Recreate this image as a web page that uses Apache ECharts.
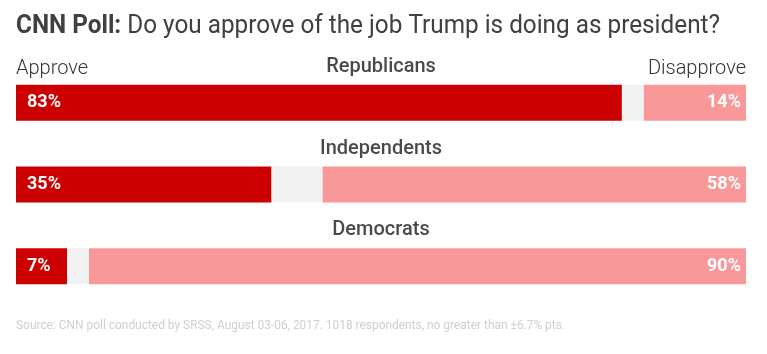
<!DOCTYPE html>
<html>
<head>
<meta charset="utf-8">
<style>
  html, body { margin: 0; padding: 0; background: #fff; }
  #chart { width: 767px; height: 354px; }
</style>
<script src="https://cdn.jsdelivr.net/npm/echarts@6/dist/echarts.min.js"></script>
</head>
<body>
<div id="chart"></div>
<script>
// poll data
const groups = ["Republicans", "Independents", "Democrats"];
const approve = [83, 35, 7];
const noOpinion = [3, 7, 3];
const disapprove = [14, 58, 90];

const titleBold = "CNN Poll:";
const titleRest = " Do you approve of the job Trump is doing as president?";
const source = "Source: CNN poll conducted by SRSS, August 03-06, 2017. 1018 respondents, no greater than \u00b16.7% pts.";

const font = "Roboto, 'Noto Sans', sans-serif";

// the original uses a condensed face; squeeze Roboto to the same width
const ctx = document.createElement("canvas").getContext("2d");
function textWidth(str, f) { ctx.font = f; return ctx.measureText(str).width; }
const titleW = textWidth(titleBold, "bold 25px Roboto") + textWidth(titleRest, "25px Roboto");
const titleScale = 704 / titleW;
const sourceScale = 549 / textWidth(source, "13px Roboto");

const chart = echarts.init(document.getElementById("chart"));

const pctLabel = {
  show: true,
  color: "#fff",
  fontFamily: font,
  fontWeight: "bold",
  fontSize: 18,
  formatter: p => p.value + "%"
};

chart.setOption({
  animation: false,
  graphic: [
    {
      type: "text", x: 16, y: 27, scaleX: titleScale, silent: true,
      style: {
        text: "{b|" + titleBold + "}{r|" + titleRest + "}",
        verticalAlign: "middle",
        rich: {
          b: { fontFamily: font, fontWeight: "bold", fontSize: 25, fill: "#404040" },
          r: { fontFamily: font, fontWeight: "normal", fontSize: 25, fill: "#404040" }
        }
      }
    },
    {
      type: "text", x: 16, y: 69, silent: true,
      style: { text: "Approve", font: "300 20px " + font, fill: "#333", verticalAlign: "middle" }
    },
    {
      type: "text", x: 746, y: 69, silent: true,
      style: { text: "Disapprove", font: "300 20px " + font, fill: "#333", align: "right", verticalAlign: "middle" }
    },
    {
      type: "text", x: 16, y: 326, scaleX: sourceScale, silent: true,
      style: { text: source, font: "13px " + font, fill: "#cfcfcf", verticalAlign: "middle" }
    }
  ],
  grid: { left: 16, right: 21, top: 62, height: 245 },
  xAxis: { type: "value", min: 0, max: 100, show: false },
  yAxis: { type: "category", data: groups, inverse: true, show: false },
  series: [
    {
      type: "bar", stack: "all", data: approve, barWidth: 36,
      itemStyle: { color: "#cc0000" },
      label: Object.assign({ position: "insideLeft", offset: [6, 0] }, pctLabel)
    },
    {
      type: "bar", stack: "all", data: noOpinion, barWidth: 36,
      itemStyle: { color: "#f2f2f2" }
    },
    {
      type: "bar", stack: "all", data: disapprove, barWidth: 36,
      itemStyle: { color: "#f99898" },
      label: Object.assign({ position: "insideRight", offset: [0, 0] }, pctLabel)
    },
    {
      // group names centred above each bar
      type: "scatter", symbolSize: 0, silent: true,
      data: groups.map(g => [50, g]),
      label: {
        show: true, position: "inside", offset: [0, -36],
        formatter: p => p.data[1],
        fontFamily: font, fontWeight: 500, fontSize: 20, color: "#1a1a1a"
      }
    }
  ]
});

window.addEventListener("resize", () => chart.resize());
</script>
</body>
</html>
